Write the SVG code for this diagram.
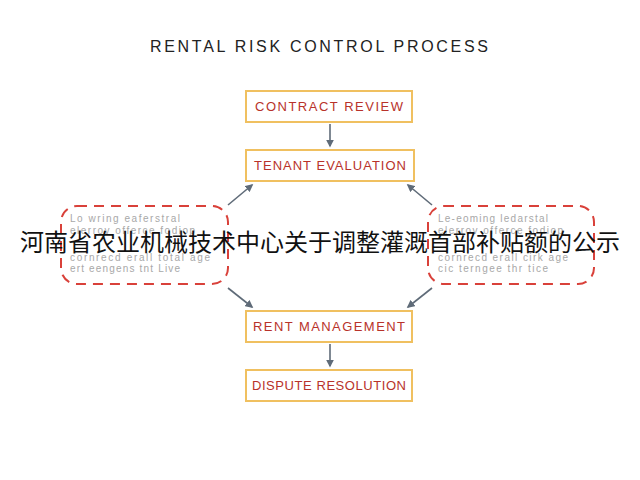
<svg xmlns="http://www.w3.org/2000/svg" width="640" height="480" viewBox="0 0 640 480">
<style>
.box{fill:#fff;stroke:#f0c060;stroke-width:2}
.lbl{font-family:"Liberation Sans",sans-serif;font-size:13px;fill:#b8322a;text-anchor:middle}
.dash{fill:none;stroke:#d9413a;stroke-width:2;stroke-dasharray:10 7}
.note{font-family:"Liberation Sans",sans-serif;font-size:10px;fill:#a8a8a8}
.con{stroke:#5f6b78;stroke-width:1.6;fill:none;marker-end:url(#a)}
</style>
<defs><marker id="a" viewBox="0 0 10 10" refX="8" refY="5" markerWidth="5" markerHeight="5" orient="auto"><path d="M0,0L10,5L0,10z" fill="#5f6b78"/></marker></defs>
<rect width="640" height="480" fill="#fff"/>
<text x="319" y="52" text-anchor="middle" font-family="Liberation Sans,sans-serif" font-size="16" fill="#222" textLength="338">RENTAL RISK CONTROL PROCESS</text>
<g id="connectors">
<path class="con" d="M330,124V146"/>
<path class="con" d="M228,205L252,185"/>
<path class="con" d="M432,205L408,185"/>
<path class="con" d="M228,288L252,307"/>
<path class="con" d="M432,288L408,307"/>
<path class="con" d="M330,344V366"/>
</g>
<g id="n1"><rect class="box" x="246" y="91" width="166" height="31"/><text class="lbl" x="329" y="111" textLength="148">CONTRACT REVIEW</text></g>
<g id="n2"><rect class="box" x="246" y="150" width="168" height="31"/><text class="lbl" x="330" y="170" textLength="152">TENANT EVALUATION</text></g>
<g id="n3"><rect class="box" x="246" y="311" width="166" height="31"/><text class="lbl" x="329" y="331" textLength="152">RENT MANAGEMENT</text></g>
<g id="n4"><rect class="box" x="246" y="370" width="166" height="31"/><text class="lbl" x="329" y="390" textLength="154">DISPUTE RESOLUTION</text></g>
<g id="left"><rect class="dash" x="61" y="206" width="167" height="78" rx="16"/>
<text class="note" x="70" y="222" textLength="110">Lo wring eaferstral</text>
<text class="note" x="70" y="234" textLength="125">elerrov offerce fodiop</text>
<text class="note" x="70" y="261" textLength="140">cornrecd erall total age</text>
<text class="note" x="70" y="272" textLength="110">ert eengens tnt Live</text></g>
<g id="right"><rect class="dash" x="428" y="206" width="166" height="78" rx="16"/>
<text class="note" x="438" y="222" textLength="110">Le-eoming ledarstal</text>
<text class="note" x="438" y="234" textLength="125">elerrov offerce fodiop</text>
<text class="note" x="438" y="261" textLength="130">cornrecd erall cirk age</text>
<text class="note" x="438" y="272" textLength="110">cic terngee thr tice</text></g>
<text x="320" y="251" text-anchor="middle" font-family="Noto Sans CJK SC,sans-serif" font-size="24" fill="#111" textLength="600">河南省农业机械技术中心关于调整灌溉首部补贴额的公示</text>
</svg>
